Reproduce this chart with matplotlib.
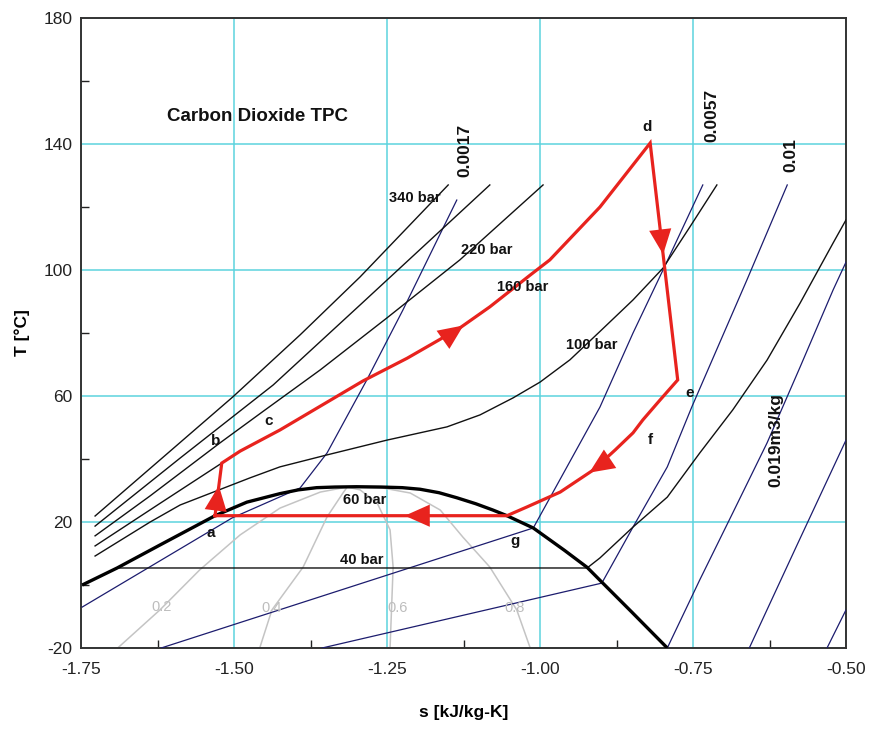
import matplotlib
matplotlib.use("Agg")
import matplotlib.pyplot as plt
import numpy as np

plt.rcParams['font.family'] = ['Liberation Sans', 'DejaVu Sans']

# ---------------- data (s in kJ/kg-K, T in C) ----------------
# saturation dome
dome_s = [-1.748, -1.691, -1.620, -1.531, -1.479, -1.425, -1.395, -1.365, -1.335, -1.300,
          -1.260, -1.225, -1.196, -1.165, -1.136, -1.105, -1.077, -1.054, -1.011, -0.960,
          -0.923, -0.902, -0.850, -0.792]
dome_T = [0.0, 5.4, 12.8, 22.0, 26.3, 29.0, 30.2, 30.9, 31.1, 31.2,
          31.1, 30.9, 30.4, 29.3, 27.7, 25.8, 23.8, 22.0, 18.1, 11.0,
          5.6, 1.5, -8.6, -20.0]

# isobars
p340_s = [-1.727, -1.621, -1.502, -1.392, -1.294, -1.150]
p340_T = [21.9, 39.7, 59.7, 79.4, 97.8, 127.0]
p280_s = [-1.727, -1.588, -1.436, -1.294, -1.082]
p280_T = [18.7, 40.3, 63.5, 88.9, 127.0]
p220_s = [-1.727, -1.637, -1.523, -1.454, -1.359, -1.250, -1.131, -0.995]
p220_T = [15.6, 28.3, 45.1, 54.9, 68.3, 84.8, 103.2, 127.0]
p160_s = [-1.727, -1.621, -1.520, -1.490, -1.425, -1.364, -1.289, -1.217, -1.131,
          -1.082, -1.016, -0.984, -0.902, -0.874]
p160_T = [12.4, 25.9, 38.7, 42.5, 49.2, 56.2, 64.8, 72.0, 81.6,
          88.3, 98.4, 103.2, 120.0, 127.0]
p100_s = [-1.727, -1.637, -1.588, -1.474, -1.425, -1.348, -1.250, -1.152, -1.098,
          -1.044, -1.000, -0.951, -0.902, -0.848, -0.799, -0.755, -0.711]
p100_T = [9.2, 20.0, 25.4, 34.0, 37.5, 41.3, 46.0, 50.2, 54.0,
          59.4, 64.4, 71.5, 80.5, 90.5, 100.6, 113.7, 127.0]
p40_s = [-1.688, -0.923, -0.902, -0.848, -0.792, -0.739, -0.685, -0.629, -0.575, -0.521, -0.500]
p40_T = [5.4, 5.4, 8.6, 18.4, 27.9, 41.9, 55.6, 71.4, 89.5, 108.6, 115.9]

# isochores (m3/kg)
v0017_s = [-1.748, -1.503, -1.392, -1.348, -1.283, -1.224, -1.136]
v0017_T = [-7.0, 21.3, 30.8, 41.9, 65.1, 87.3, 122.2]
v0057_s = [-1.619, -1.011, -0.902, -0.848, -0.799, -0.734]
v0057_T = [-20.0, 18.1, 56.5, 80.0, 100.0, 127.0]
v01_s = [-1.356, -0.899, -0.848, -0.792, -0.752, -0.662, -0.596]
v01_T = [-20.0, 0.6, 18.4, 37.5, 56.5, 96.8, 127.0]
v019_s = [-0.792, -0.739, -0.685, -0.629, -0.575, -0.521, -0.500]
v019_T = [-20.0, 1.6, 22.9, 45.1, 69.2, 93.7, 102.5]
v03_s = [-0.658, -0.580, -0.500]
v03_T = [-20.0, 12.7, 46.0]
v05_s = [-0.531, -0.500]
v05_T = [-20.0, -7.9]

# quality lines
x02_s = [-1.690, -1.621, -1.556, -1.490, -1.425, -1.359, -1.315]
x02_T = [-20.0, -7.9, 4.8, 15.9, 24.4, 29.5, 31.1]
x04_s = [-1.458, -1.438, -1.387, -1.348, -1.322, -1.315]
x04_T = [-20.0, -7.9, 5.7, 21.6, 29.2, 31.1]
x06_s = [-1.245, -1.240, -1.245, -1.266, -1.294, -1.315]
x06_T = [-20.0, 5.7, 17.5, 26.0, 30.2, 31.1]
x08_s = [-1.016, -1.038, -1.082, -1.126, -1.163, -1.212, -1.257, -1.315]
x08_T = [-20.0, -7.9, 5.7, 15.2, 23.8, 29.2, 30.8, 31.1]

# cycle a-b-c-d-e-f-g-a
cyc_s = [-1.531, -1.520, -1.490, -1.425, -1.364, -1.289, -1.217, -1.131, -1.082, -1.016,
         -0.984, -0.902, -0.820, -0.775, -0.804, -0.832, -0.848, -0.877, -0.913, -0.967,
         -1.021, -1.054, -1.531]
cyc_T = [22.0, 38.7, 42.5, 49.2, 56.2, 64.8, 72.0, 81.6, 88.3, 98.4,
         103.2, 120.0, 140.3, 65.1, 58.7, 52.4, 48.3, 42.9, 36.5, 29.5,
         24.8, 22.0, 22.0]

xticks = [-1.75, -1.50, -1.25, -1.00, -0.75, -0.50]
yticks = [-20, 20, 60, 100, 140, 180]

# ---------------- figure ----------------
fig = plt.figure(figsize=(8.71, 7.31), dpi=100)
ax = fig.add_axes([81/871, 1-648/731, (846-81)/871, (648-18)/731])
ax.set_xlim(-1.75, -0.50)
ax.set_ylim(-20, 180)

grid_c = '#5cd3de'
ax.set_xticks(xticks)
ax.set_xticklabels([f'{v:.2f}' for v in xticks])
ax.set_xticks([v + 0.125 for v in xticks[:-1]], minor=True)
ax.set_yticks(yticks)
ax.set_yticklabels([str(v) for v in yticks])
ax.set_yticks([v + 20 for v in yticks[:-1]], minor=True)
ax.tick_params(axis='both', which='both', direction='in', labelsize=12.5,
               top=False, right=False, colors='#222222')
ax.tick_params(which='major', length=0)
ax.tick_params(which='minor', length=6, width=1)
ax.tick_params(axis='x', which='major', pad=10)
ax.tick_params(axis='y', which='major', pad=6)
ax.grid(True, which='major', color=grid_c, lw=1.1, zorder=0)
ax.set_axisbelow(True)
for sp in ax.spines.values():
    sp.set_linewidth(1.4)
    sp.set_color('#333333')

grey = '#c4c4c4'
for s, t in [(x02_s, x02_T), (x04_s, x04_T), (x06_s, x06_T), (x08_s, x08_T)]:
    ax.plot(s, t, color=grey, lw=1.1, zorder=2)

navy = '#1c1c6e'
for s, t in [(v0017_s, v0017_T), (v0057_s, v0057_T), (v01_s, v01_T),
             (v019_s, v019_T), (v03_s, v03_T), (v05_s, v05_T)]:
    ax.plot(s, t, color=navy, lw=0.9, zorder=3)

for s, t in [(p340_s, p340_T), (p280_s, p280_T), (p220_s, p220_T),
             (p160_s, p160_T), (p100_s, p100_T), (p40_s, p40_T)]:
    ax.plot(s, t, color='#111111', lw=1.0, zorder=4)

ax.plot(dome_s, dome_T, color='black', lw=2.4, zorder=5, solid_capstyle='butt',
        solid_joinstyle='round')

red = '#e8231e'
ax.plot(cyc_s, cyc_T, color=red, lw=2.3, zorder=6, solid_joinstyle='miter')


def arrow_on(i, f):
    s0, t0 = cyc_s[i], cyc_T[i]
    s1, t1 = cyc_s[i + 1], cyc_T[i + 1]
    a = (s0 + f * (s1 - s0), t0 + f * (t1 - t0))
    b = (s0 + (f + 0.02) * (s1 - s0), t0 + (f + 0.02) * (t1 - t0))
    ax.annotate('', xy=b, xytext=a,
                arrowprops=dict(arrowstyle='-|>,head_length=0.9,head_width=0.4',
                                color=red, lw=0, mutation_scale=20,
                                shrinkA=0, shrinkB=0), zorder=7)


arrow_on(0, 0.55)    # a -> b
arrow_on(7, 0.1)     # b -> d
arrow_on(12, 0.45)   # d -> e
arrow_on(18, 0.1)    # e -> g
arrow_on(21, 0.33)   # g -> a

# ---------------- texts ----------------
ax.text(-1.461, 148.6, 'Carbon Dioxide TPC', fontsize=13.5, fontweight='bold',
        ha='center', va='center', color='#111111')

bar_kw = dict(fontsize=10.5, fontweight='bold', ha='center', va='center', color='#111111', zorder=8)
ax.text(-1.204, 122.9, '340 bar', **bar_kw)
ax.text(-1.087, 106.3, '220 bar', **bar_kw)
ax.text(-1.028, 94.6, '160 bar', **bar_kw)
ax.text(-0.915, 76.2, '100 bar', **bar_kw)
ax.text(-1.286, 27.0, '60 bar', **bar_kw)
ax.text(-1.291, 7.9, '40 bar', **bar_kw)

v_kw = dict(fontsize=12.5, fontweight='bold', ha='center', va='center', rotation=90,
            color='#111111', zorder=8)
ax.text(-1.123, 138.1, '0.0017', **v_kw)
ax.text(-0.719, 149.2, '0.0057', **v_kw)
ax.text(-0.590, 136.5, '0.01', **v_kw)
ax.text(-0.614, 46.0, '0.019m3/kg', **v_kw)

q_kw = dict(fontsize=10.5, ha='center', va='center', color='#bdbdbd', zorder=8)
ax.text(-1.618, -7.0, '0.2', **q_kw)
ax.text(-1.438, -7.3, '0.4', **q_kw)
ax.text(-1.232, -7.3, '0.6', **q_kw)
ax.text(-1.041, -7.3, '0.8', **q_kw)

pt_kw = dict(fontsize=11, fontweight='bold', ha='center', va='center', color='#111111', zorder=8)
ax.text(-1.538, 16.5, 'a', **pt_kw)
ax.text(-1.530, 45.7, 'b', **pt_kw)
ax.text(-1.444, 52.1, 'c', **pt_kw)
ax.text(-0.825, 145.4, 'd', **pt_kw)
ax.text(-0.755, 61.0, 'e', **pt_kw)
ax.text(-0.819, 46.0, 'f', **pt_kw)
ax.text(-1.041, 14.0, 'g', **pt_kw)

ax.set_xlabel('s [kJ/kg-K]', fontsize=12.5, fontweight='bold', labelpad=20)
ax.set_ylabel('T [\u00b0C]', fontsize=12.5, fontweight='bold', labelpad=10)

fig.savefig('out.png', dpi=100)
